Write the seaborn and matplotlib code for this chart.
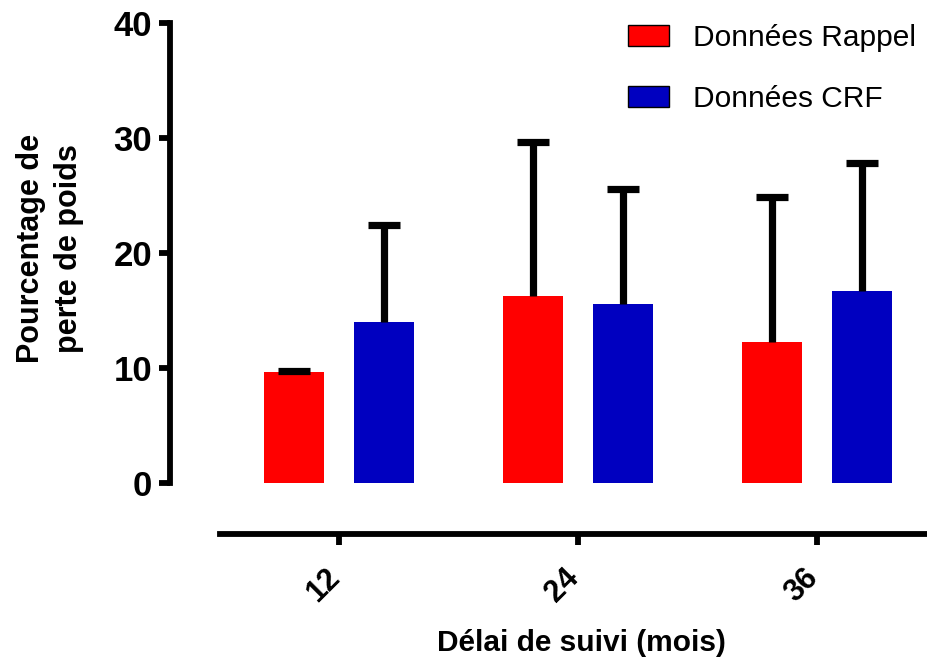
import matplotlib
matplotlib.use("Agg")
import matplotlib.pyplot as plt
from matplotlib.patches import Patch
from matplotlib.transforms import ScaledTranslation
import seaborn as sns
import pandas as pd

# ---- data ----
delais = ["12", "24", "36"]
series = ["Données Rappel", "Données CRF"]
rappel_mean = [9.68, 16.29, 12.33]
rappel_err = [0.10, 13.40, 12.60]
crf_mean = [14.05, 15.59, 16.74]
crf_err = [8.44, 10.00, 11.10]
y_ticks = [0, 10, 20, 30, 40]
colors = ["#FF0000", "#0000C0"]

df = pd.DataFrame({
    "delai": delais * 2,
    "serie": [series[0]] * 3 + [series[1]] * 3,
    "valeur": rappel_mean + crf_mean,
})
errs = {series[0]: rappel_err, series[1]: crf_err}

sns.set_theme(style="ticks")
plt.rcParams["font.family"] = ["Liberation Sans", "DejaVu Sans"]
plt.rcParams["text.color"] = "black"

fig = plt.figure(figsize=(9.28, 6.66), dpi=100)
ax = fig.add_axes([220 / 928, (666 - 483.3) / 666, 708 / 928, 460 / 666])

sns.barplot(data=df, x="delai", y="valeur", hue="serie", order=delais,
            hue_order=series, palette=colors, width=0.755, gap=0.333,
            errorbar=None, linewidth=0, saturation=1, ax=ax, legend=False)

# upper-only error bars placed at the bars drawn by seaborn
for cont, name in zip(ax.containers, series):
    xs = [p.get_x() + p.get_width() / 2 for p in cont.patches]
    hs = [p.get_height() for p in cont.patches]
    eb = ax.errorbar(xs, hs, yerr=[[0] * len(xs), errs[name]], fmt="none",
                     ecolor="black", elinewidth=5.2, capsize=11.8, capthick=5.2,
                     zorder=1, clip_on=False)
    caps = eb.lines[1]
    if len(caps) == 2:
        caps[0].set_visible(False)

ax.set_ylim(0, 40)
ax.set_xlim(-0.5, 2.466)
ax.set_yticks(y_ticks)

for s in ["top", "right"]:
    ax.spines[s].set_visible(False)
ax.spines["left"].set_position(("outward", 36))
ax.spines["bottom"].set_position(("outward", 36.5))
ax.spines["left"].set_bounds(0, 40)
for s in ["left", "bottom"]:
    ax.spines[s].set_linewidth(4.2)
    ax.spines[s].set_color("black")

ax.tick_params(axis="y", length=8, width=4.2, pad=5, labelsize=25, colors="black")
ax.tick_params(axis="x", length=8, width=4.2, pad=13, labelsize=22, colors="black")
for lab in ax.get_yticklabels():
    lab.set_fontweight("bold")
offset = ScaledTranslation(7 / 100, 0, fig.dpi_scale_trans)
for lab in ax.get_xticklabels():
    lab.set_fontweight("bold")
    lab.set_rotation(45)
    lab.set_ha("right")
    lab.set_transform(lab.get_transform() + offset)

ax.set_xlabel("Délai de suivi (mois)", fontsize=21.5, fontweight="bold",
              va="center", color="black")
ax.xaxis.set_label_coords(0.5106, -0.347)
ax.set_ylabel("Pourcentage de\nperte de poids", fontsize=22, fontweight="bold",
              va="center", linespacing=1.35, color="black")
ax.yaxis.set_label_coords(-0.240, 0.510)

handles = [Patch(facecolor=c, edgecolor="black", linewidth=1) for c in colors]
leg = ax.legend(handles, series, loc="upper left",
                bbox_to_anchor=(628 / 928, 1 - 24 / 666),
                bbox_transform=fig.transFigure, frameon=False, fontsize=21.5,
                handlelength=1.37, handleheight=0.73, handletextpad=0.8,
                labelspacing=1.1, borderpad=0, borderaxespad=0)
for t in leg.get_texts():
    t.set_color("black")

fig.savefig("out.png", dpi=100)
